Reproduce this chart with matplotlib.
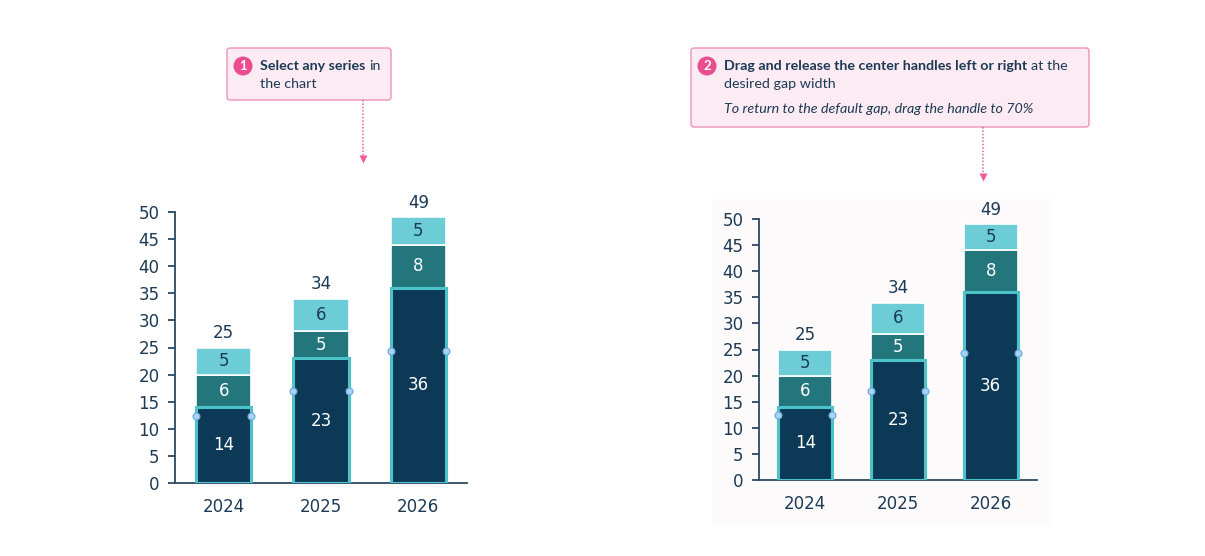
import matplotlib
matplotlib.use('Agg')
import matplotlib.pyplot as plt
from matplotlib.patches import FancyBboxPatch, Circle

# data
years = ['2024', '2025', '2026']
series_a = [14, 23, 36]
series_b = [6, 5, 8]
series_c = [5, 6, 5]
totals = [25, 34, 49]
handle_y = [12.4, 17.0, 24.4]
yticks = [0, 5, 10, 15, 20, 25, 30, 35, 40, 45, 50]

navy = '#0c3a56'
teal = '#23777c'
cyan = '#6dcdd7'
sel_edge = '#4cc3c9'
txt = '#1c3a55'
pink_fill = '#fdebf3'
pink_edge = '#f191bb'
badge = '#e94d8f'
arrow_c = '#ec5c98'

W, H = 1205, 556
fig = plt.figure(figsize=(W / 100, H / 100), dpi=100)
fig.patch.set_facecolor('white')


def px_axes(left, top, right, bottom):
    return fig.add_axes([left / W, (H - bottom) / H, (right - left) / W, (bottom - top) / H])


# faint panel behind the right chart
bg = px_axes(712, 199, 1052, 525)
bg.set_facecolor('#fdfafb')
bg.set_xticks([])
bg.set_yticks([])
for s in bg.spines.values():
    s.set_visible(False)


def draw_chart(ax, width):
    x = range(len(years))
    ax.bar(x, series_a, width, color=navy, edgecolor=sel_edge, linewidth=2.2, zorder=3)
    ax.bar(x, series_b, width, bottom=series_a, color=teal, edgecolor='white', linewidth=1.2, zorder=2)
    bottoms = [a + b for a, b in zip(series_a, series_b)]
    ax.bar(x, series_c, width, bottom=bottoms, color=cyan, edgecolor='white', linewidth=1.2, zorder=2)
    for i in x:
        ax.text(i, series_a[i] / 2, str(series_a[i]), ha='center', va='center', color='white', fontsize=12, zorder=4)
        ax.text(i, series_a[i] + series_b[i] / 2, str(series_b[i]), ha='center', va='center', color='white', fontsize=12, zorder=4)
        ax.text(i, bottoms[i] + series_c[i] / 2, str(series_c[i]), ha='center', va='center', color=txt, fontsize=12, zorder=4)
        ax.annotate(str(totals[i]), (i, totals[i]), xytext=(0, 10.5), textcoords='offset points',
                    ha='center', va='center', color=txt, fontsize=12, annotation_clip=False)
        for side in (-1, 1):
            ax.plot(i + side * width / 2, handle_y[i], 'o', ms=5, mfc='#a9d3f3', mec='#6aa6dc', mew=0.8,
                    zorder=5, clip_on=False)
    ax.set_xlim(-0.5, 2.5)
    ax.set_ylim(0, 50)
    ax.set_xticks(list(x))
    ax.set_xticklabels(years)
    ax.set_yticks(yticks)
    ax.set_facecolor('none')
    for s in ['top', 'right']:
        ax.spines[s].set_visible(False)
    for s in ['left', 'bottom']:
        ax.spines[s].set_color('#2b4a63')
        ax.spines[s].set_linewidth(1.3)
    ax.tick_params(axis='y', length=5, width=1.3, color='#2b4a63', labelcolor=txt, labelsize=12, pad=6)
    ax.tick_params(axis='x', length=0, labelcolor=txt, labelsize=12, pad=11)


ax1 = px_axes(175, 212, 467, 483)
draw_chart(ax1, 0.57)
ax2 = px_axes(759, 219, 1037, 480)
draw_chart(ax2, 0.58)

# overlay for the callouts, in pixel coordinates
ov = fig.add_axes([0, 0, 1, 1])
ov.set_xlim(0, W)
ov.set_ylim(H, 0)
ov.axis('off')
ov.set_facecolor('none')

fam = ['Lato', 'DejaVu Sans']
fs = 10.3


def callout(x0, y0, x1, y1, num, ax_x, ax_y0, ax_y1):
    ov.add_patch(FancyBboxPatch((x0, y0), x1 - x0, y1 - y0, boxstyle='round,pad=0,rounding_size=3',
                                fc=pink_fill, ec=pink_edge, lw=1.0))
    ov.add_patch(Circle((x0 + 16, y0 + 18), 9.5, fc=badge, ec='none'))
    ov.text(x0 + 16, y0 + 18, num, ha='center', va='center', color='white', fontsize=9.5,
            fontweight='bold', family=fam)
    ov.plot([ax_x, ax_x], [ax_y0, ax_y1 - 6], color=arrow_c, lw=1.1, ls=(0, (1, 1.2)))
    ov.plot(ax_x, ax_y1 - 3, marker='v', ms=6, color=arrow_c, mec='none')


def mixed(x, y, bold, regular):
    t = ov.text(x, y, bold, ha='left', va='center', color=txt, fontsize=fs, fontweight='bold', family=fam)
    fig.canvas.draw()
    bb = t.get_window_extent(renderer=fig.canvas.get_renderer())
    ov.text(bb.x1 / fig.dpi * 100 + 4, y, regular, ha='left', va='center', color=txt, fontsize=fs, family=fam)


callout(227, 48, 391, 100, '1', 363, 100, 162)
mixed(260, 66, 'Select any series', 'in')
ov.text(260, 84, 'the chart', ha='left', va='center', color=txt, fontsize=fs, family=fam)

callout(691, 48, 1089, 127, '2', 983, 127, 180)
mixed(724, 66, 'Drag and release the center handles left or right', 'at the')
ov.text(724, 84, 'desired gap width', ha='left', va='center', color=txt, fontsize=fs, family=fam)
ov.text(724, 109, 'To return to the default gap, drag the handle to 70%', ha='left', va='center',
        color=txt, fontsize=fs, style='italic', family=fam)

fig.savefig('out.png', dpi=100)
